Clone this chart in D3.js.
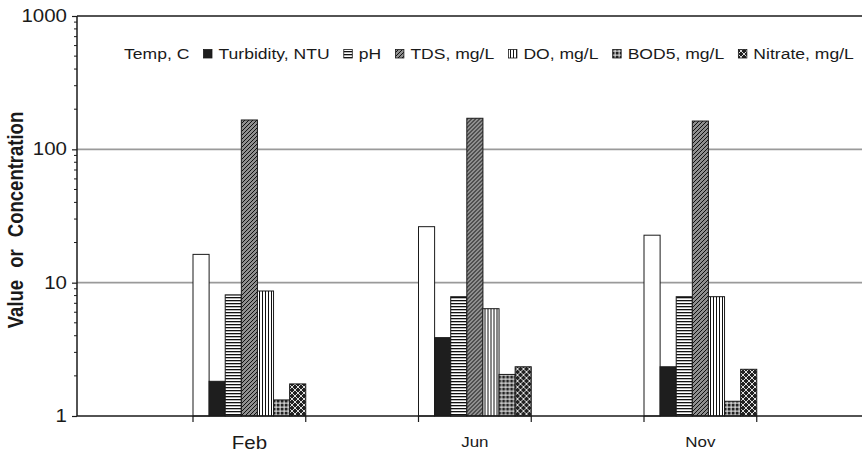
<!DOCTYPE html>
<html>
<head>
<meta charset="utf-8">
<script src="https://cdn.jsdelivr.net/npm/d3@7"></script>
<style>
  html, body { margin: 0; padding: 0; background: #fff; }
  svg { display: block; font-family: "Liberation Sans", Arial, sans-serif; }
</style>
</head>
<body>
<svg id="chart" width="862" height="454"></svg>
<script>
// Sampling months
const categories = ["Feb", "Jun", "Nov"];

// Measured parameters (one array per series, in category order)
const seriesNames = ["Temp, C", "Turbidity, NTU", "pH", "TDS, mg/L", "DO, mg/L", "BOD5, mg/L", "Nitrate, mg/L"];
const tempC      = [16.3, 26.3, 22.7];
const turbidity  = [1.82, 3.87, 2.34];
const pH         = [8.1, 7.85, 7.85];
const tds        = [166, 171, 163];
const dissolvedO = [8.66, 6.38, 7.85];
const bod5       = [1.32, 2.05, 1.29];
const nitrate    = [1.74, 2.34, 2.24];

const yTickValues = [1, 10, 100, 1000];
const yGridValues = [10, 100];

const seriesValues = [tempC, turbidity, pH, tds, dissolvedO, bod5, nitrate];
const fills = ["#ffffff", "#1e1e1e", "url(#p-horz)", "url(#p-diag)", "url(#p-vert)", "url(#p-grid)", "url(#p-cross)"];

const svg = d3.select("#chart");
const ink = "#1a1a1a";
const sx = 1.17; // horizontal text widening

// ---- fill patterns ----
const defs = svg.append("defs");
function pattern(id, w, h) {
  return defs.append("pattern").attr("id", id).attr("patternUnits", "userSpaceOnUse")
    .attr("width", w).attr("height", h);
}
let p = pattern("p-horz", 4, 3);
p.append("rect").attr("width", 4).attr("height", 3).attr("fill", "#fff");
p.append("rect").attr("width", 4).attr("height", 1.3).attr("fill", "#111");

p = pattern("p-vert", 3, 4);
p.append("rect").attr("width", 3).attr("height", 4).attr("fill", "#fff");
p.append("rect").attr("width", 1).attr("height", 4).attr("fill", "#111");

p = pattern("p-diag", 4, 4);
p.append("rect").attr("width", 4).attr("height", 4).attr("fill", "#8f8f8f");
p.append("path").attr("d", "M-1,1 L1,-1 M0,4 L4,0 M3,5 L5,3").attr("stroke", "#111").attr("stroke-width", 1);

p = pattern("p-grid", 4, 4);
p.append("rect").attr("width", 4).attr("height", 4).attr("fill", "#222");
p.append("rect").attr("x", 2.6).attr("width", 1).attr("height", 4).attr("fill", "#eee");
p.append("rect").attr("y", 2.6).attr("width", 4).attr("height", 1).attr("fill", "#eee");

p = pattern("p-cross", 6, 6);
p.append("rect").attr("width", 6).attr("height", 6).attr("fill", "#222");
p.append("path").attr("d", "M0,0 L6,6 M6,0 L0,6").attr("stroke", "#ddd").attr("stroke-width", 1);

// ---- scales ----
const axisX = 77, baseY = 416, topY = 16, rightX = 862;
const y = d3.scaleLog().domain([1, 1000]).range([baseY, topY]);

// Seven equal slots along the category axis; months sit in slots 1, 3 and 5
const slots = d3.range(7);
const slotOf = i => 2 * i + 1;
const xSlot = d3.scaleBand().domain(slots).range([80.25, 869.5]).padding(0);
const xSeries = d3.scaleBand().domain(seriesNames).range([0, xSlot.bandwidth()]).padding(0);

// ---- gridlines ----
svg.append("g").selectAll("line").data(yGridValues).join("line")
  .attr("x1", axisX).attr("x2", rightX)
  .attr("y1", d => y(d)).attr("y2", d => y(d))
  .attr("stroke", "#9a9a9a").attr("stroke-width", 1.6);
svg.append("line").attr("x1", axisX).attr("x2", rightX)
  .attr("y1", y(1000)).attr("y2", y(1000))
  .attr("stroke", ink).attr("stroke-width", 1.3);

// ---- bars ----
const groups = svg.append("g").selectAll("g").data(categories).join("g")
  .attr("transform", (d, i) => `translate(${xSlot(slotOf(i))},0)`);
groups.selectAll("rect")
  .data((d, i) => seriesNames.map((s, k) => ({ s, k, v: seriesValues[k][i] })))
  .join("rect")
  .attr("x", d => xSeries(d.s))
  .attr("width", xSeries.bandwidth())
  .attr("y", d => y(d.v))
  .attr("height", d => y(1) - y(d.v))
  .attr("fill", d => fills[d.k])
  .attr("stroke", ink).attr("stroke-width", 1);

// ---- axes ----
// value axis: major and minor log ticks on the left
const yAxis = d3.axisLeft(y).tickValues(yTickValues).tickSize(5).tickFormat("");
const yAxisG = svg.append("g").attr("transform", `translate(${axisX},0)`).call(yAxis);
yAxisG.select(".domain").remove();
yAxisG.selectAll("line").attr("stroke", ink).attr("stroke-width", 1.2);
const minor = [];
[1, 10, 100].forEach(dec => d3.range(2, 10).forEach(m => minor.push(dec * m)));
svg.append("g").selectAll("line").data(minor).join("line")
  .attr("x1", axisX - 3).attr("x2", axisX)
  .attr("y1", d => y(d)).attr("y2", d => y(d))
  .attr("stroke", ink).attr("stroke-width", 1);
svg.append("line").attr("x1", axisX).attr("x2", axisX).attr("y1", topY).attr("y2", baseY)
  .attr("stroke", ink).attr("stroke-width", 1.5);

// category axis
svg.append("line").attr("x1", axisX).attr("x2", rightX).attr("y1", baseY).attr("y2", baseY)
  .attr("stroke", ink).attr("stroke-width", 1.5);
svg.append("g").selectAll("line").data(slots.slice(1)).join("line")
  .attr("x1", d => xSlot(d)).attr("x2", d => xSlot(d))
  .attr("y1", baseY).attr("y2", baseY + 6)
  .attr("stroke", ink).attr("stroke-width", 1.2);

// ---- text helpers ----
function wideText(parent, str, x, yy, size, anchor, weight) {
  return parent.append("text")
    .attr("transform", `translate(${x},${yy}) scale(${sx},1)`)
    .attr("text-anchor", anchor || "start")
    .attr("font-size", size)
    .attr("font-weight", weight || "normal")
    .attr("fill", ink)
    .text(str);
}

// y tick labels
yTickValues.forEach(v => {
  wideText(svg, String(v), 67, y(v), 17.5, "end").attr("dy", "0.35em");
});

// month labels
const labelSize = [17.5, 14.5, 14.5];
categories.forEach((c, i) => {
  wideText(svg, c, xSlot(slotOf(i)) + xSlot.bandwidth() / 2, i === 0 ? 449 : 447, labelSize[i], "middle");
});

// y-axis title
svg.append("text")
  .attr("transform", `translate(23,220) rotate(-90) scale(1,${sx})`)
  .attr("text-anchor", "middle")
  .attr("font-size", 18.5)
  .attr("font-weight", "bold")
  .attr("word-spacing", 7)
  .attr("fill", ink)
  .text("Value or Concentration");

// ---- legend ----
const legend = svg.append("g");
const sw = 8.5, legY = 59;
let cx = 109;
seriesNames.forEach((s, k) => {
  legend.append("rect")
    .attr("x", cx).attr("y", legY - 9.5).attr("width", sw).attr("height", sw)
    .attr("fill", fills[k])
    .attr("stroke", k === 0 ? "none" : ink).attr("stroke-width", 0.8);
  cx += sw + 6.5;
  const t = wideText(legend, s, cx, legY, 15, "start");
  cx += t.node().getComputedTextLength() * sx + 14.2;
});
</script>
</body>
</html>
